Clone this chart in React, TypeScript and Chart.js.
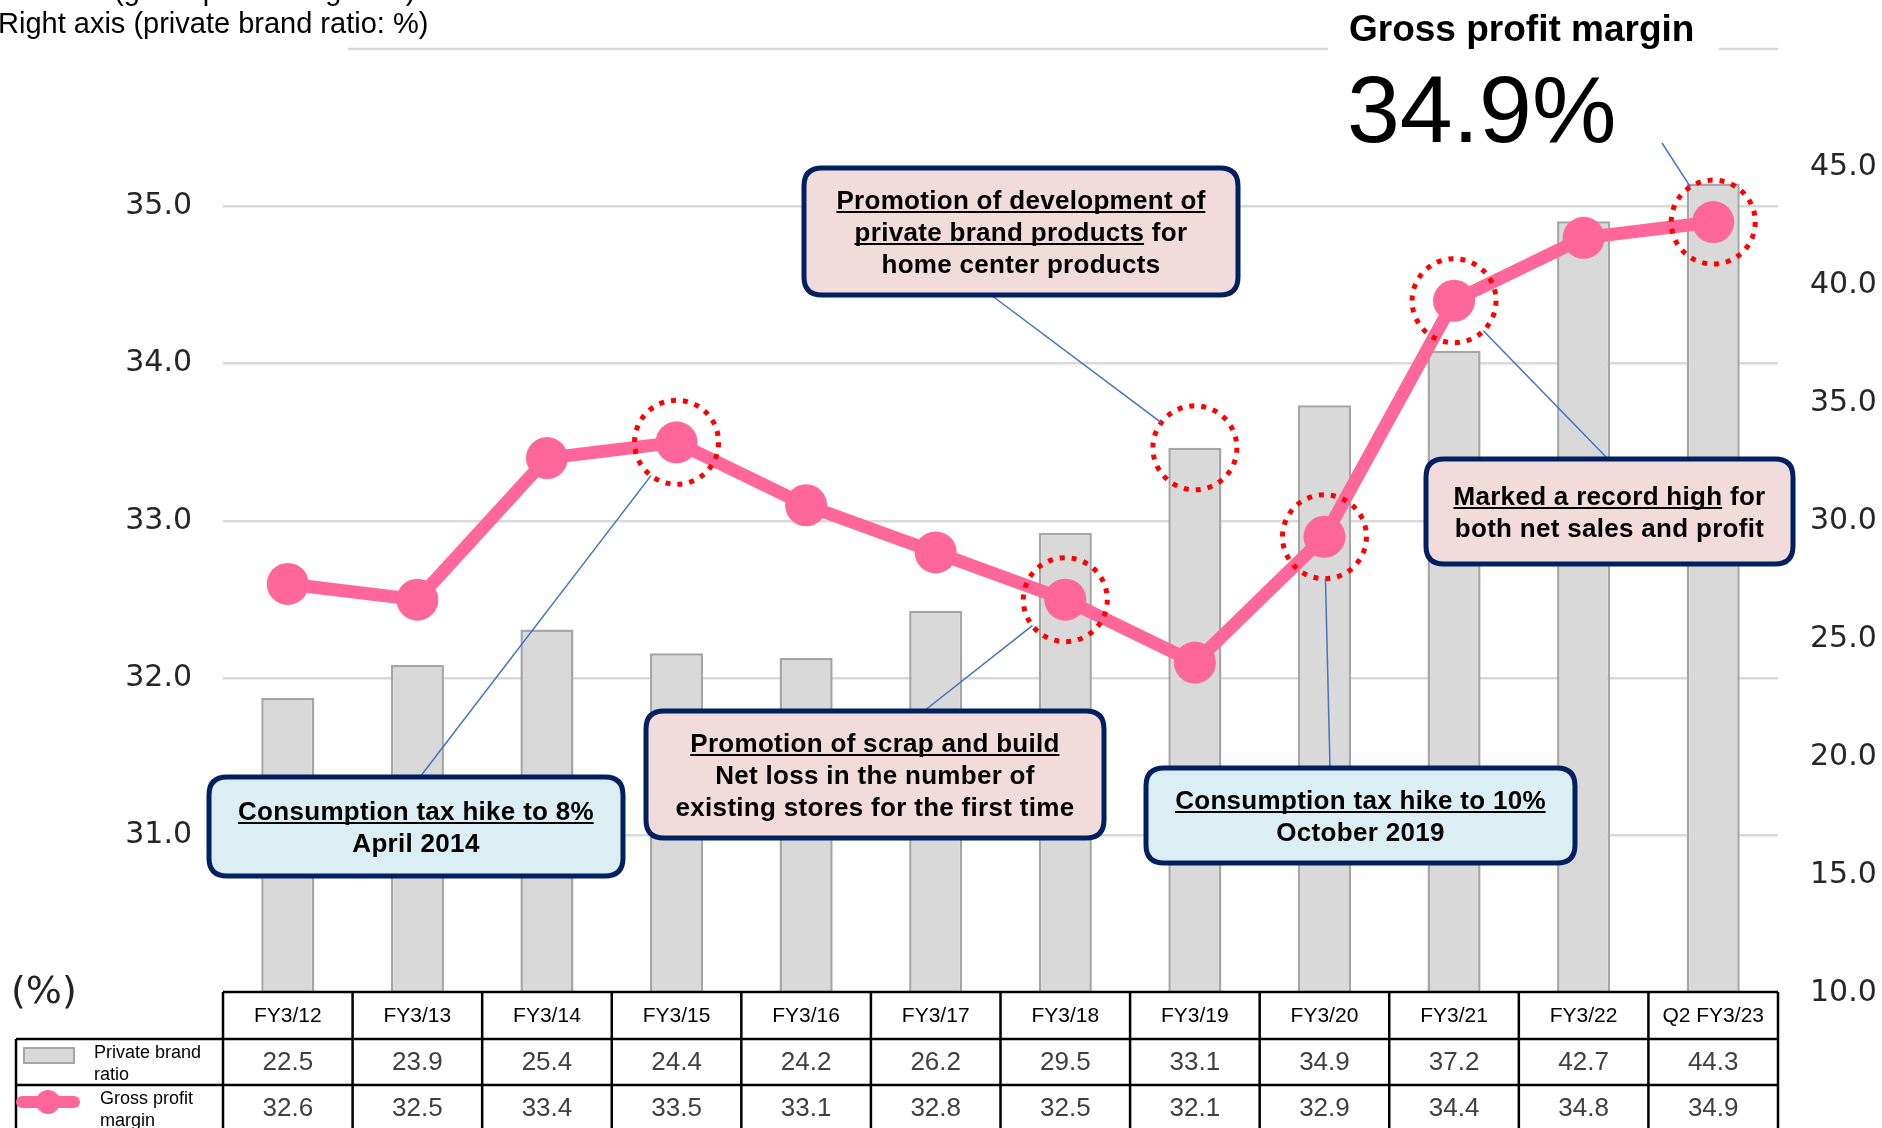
import React, { useEffect, useRef } from 'react';
import { Chart, registerables } from 'chart.js';

Chart.register(...registerables);

// ---------- data ----------
const categories = ['FY3/12', 'FY3/13', 'FY3/14', 'FY3/15', 'FY3/16', 'FY3/17', 'FY3/18', 'FY3/19', 'FY3/20', 'FY3/21', 'FY3/22', 'Q2 FY3/23'];
const privateBrandRatio = [22.5, 23.9, 25.4, 24.4, 24.2, 26.2, 29.5, 33.1, 34.9, 37.2, 42.7, 44.3];
const grossProfitMargin = [32.6, 32.5, 33.4, 33.5, 33.1, 32.8, 32.5, 32.1, 32.9, 34.4, 34.8, 34.9];
const leftTicks = [31, 32, 33, 34, 35];
const rightTicks = [10, 15, 20, 25, 30, 35, 40, 45];
const circledMarginIdx = [3, 6, 8, 9, 11];
const circledBarIdx = [7];
const headlineLabel = 'Gross profit margin';
const headlineValue = '34.9%';
const axisNoteLeft = 'Left axis (gross profit margin: %)';
const axisNoteRight = 'Right axis (private brand ratio: %)';
const legendBarLabel = ['Private brand', 'ratio'];
const legendLineLabel = ['Gross profit', 'margin'];

// ---------- layout / style ----------
const W = 1882;
const H = 1128;
const AREA = { left: 223, right: 1778, top: 167, bottom: 993 };
const PINK = '#ff6699';
const BAR_FILL = '#d9d9d9';
const BAR_EDGE = '#a6a6a6';
const NAVY = '#002060';
const BOX_PINK = '#f2dcdb';
const BOX_BLUE = '#daeef3';
const LINK = '#4472c4';
const SANS = '"Liberation Sans", Arial, sans-serif';
const VERD = '"DejaVu Sans", Verdana, sans-serif';
const CIRCLE_R = 42;

type Seg = { t: string; u?: boolean };
type Box = { x: number; y: number; w: number; h: number; fill: string; lines: Seg[][]; link: { from: [number, number]; kind: 'line' | 'bar'; i: number } };

const boxes: Box[] = [
  {
    x: 209, y: 777, w: 414, h: 99, fill: BOX_BLUE,
    lines: [[{ t: 'Consumption tax hike to 8%', u: true }], [{ t: 'April 2014' }]],
    link: { from: [420, 777], kind: 'line', i: 3 },
  },
  {
    x: 646, y: 711, w: 458, h: 127, fill: BOX_PINK,
    lines: [[{ t: 'Promotion of scrap and build', u: true }], [{ t: 'Net loss in the number of' }], [{ t: 'existing stores for the first time' }]],
    link: { from: [924, 711], kind: 'line', i: 6 },
  },
  {
    x: 804, y: 168, w: 434, h: 127, fill: BOX_PINK,
    lines: [[{ t: 'Promotion of development of', u: true }], [{ t: 'private brand products', u: true }, { t: ' for' }], [{ t: 'home center products' }]],
    link: { from: [991, 295], kind: 'bar', i: 7 },
  },
  {
    x: 1146, y: 768, w: 429, h: 95, fill: BOX_BLUE,
    lines: [[{ t: 'Consumption tax hike to 10%', u: true }], [{ t: 'October 2019' }]],
    link: { from: [1330, 768], kind: 'line', i: 8 },
  },
  {
    x: 1426, y: 459, w: 367, h: 105, fill: BOX_PINK,
    lines: [[{ t: 'Marked a record high', u: true }, { t: ' for' }], [{ t: 'both net sales and profit' }]],
    link: { from: [1608, 459], kind: 'line', i: 9 },
  },
];

function roundRect(ctx: CanvasRenderingContext2D, x: number, y: number, w: number, h: number, r: number) {
  ctx.beginPath();
  ctx.moveTo(x + r, y);
  ctx.lineTo(x + w - r, y);
  ctx.quadraticCurveTo(x + w, y, x + w, y + r);
  ctx.lineTo(x + w, y + h - r);
  ctx.quadraticCurveTo(x + w, y + h, x + w - r, y + h);
  ctx.lineTo(x + r, y + h);
  ctx.quadraticCurveTo(x, y + h, x, y + h - r);
  ctx.lineTo(x, y + r);
  ctx.quadraticCurveTo(x, y, x + r, y);
  ctx.closePath();
}

function centerOf(chart: any, kind: 'line' | 'bar', i: number): [number, number] {
  const x = chart.scales.x.getPixelForValue(i);
  const y = kind === 'line'
    ? chart.scales.y.getPixelForValue(grossProfitMargin[i])
    : chart.scales.y2.getPixelForValue(privateBrandRatio[i]);
  return [x, y];
}

function drawLink(ctx: CanvasRenderingContext2D, from: [number, number], c: [number, number]) {
  const dx = from[0] - c[0];
  const dy = from[1] - c[1];
  const d = Math.hypot(dx, dy) || 1;
  const ex = c[0] + (dx / d) * CIRCLE_R;
  const ey = c[1] + (dy / d) * CIRCLE_R;
  ctx.beginPath();
  ctx.moveTo(from[0], from[1]);
  ctx.lineTo(ex, ey);
  ctx.stroke();
}

const overlay = {
  id: 'overlay',
  afterDatasetsDraw(chart: any) {
    const ctx: CanvasRenderingContext2D = chart.ctx;
    ctx.save();
    ctx.strokeStyle = '#ff0000';
    ctx.lineWidth = 5;
    ctx.setLineDash([5, 7]);
    const draw = (c: [number, number]) => {
      ctx.beginPath();
      ctx.arc(c[0], c[1], CIRCLE_R, 0, Math.PI * 2);
      ctx.stroke();
    };
    circledMarginIdx.forEach((i) => draw(centerOf(chart, 'line', i)));
    circledBarIdx.forEach((i) => draw(centerOf(chart, 'bar', i)));
    ctx.restore();
  },
  afterDraw(chart: any) {
    const ctx: CanvasRenderingContext2D = chart.ctx;
    const xs = chart.scales.x;
    ctx.save();

    // connectors
    ctx.strokeStyle = LINK;
    ctx.lineWidth = 1.5;
    boxes.forEach((b) => drawLink(ctx, b.link.from, centerOf(chart, b.link.kind, b.link.i)));
    drawLink(ctx, [1662, 143], centerOf(chart, 'line', grossProfitMargin.length - 1));

    // annotation boxes
    boxes.forEach((b) => {
      roundRect(ctx, b.x, b.y, b.w, b.h, 18);
      ctx.fillStyle = b.fill;
      ctx.fill();
      ctx.strokeStyle = NAVY;
      ctx.lineWidth = 5;
      ctx.stroke();
      ctx.font = `bold 26px ${SANS}`;
      (ctx as any).letterSpacing = '0.3px';
      ctx.fillStyle = '#000';
      ctx.textAlign = 'left';
      ctx.textBaseline = 'alphabetic';
      const lh = 32;
      const cy = b.y + b.h / 2;
      const n = b.lines.length;
      b.lines.forEach((line, li) => {
        const mid = cy + (li - (n - 1) / 2) * lh;
        const base = mid + 9;
        const widths = line.map((s) => ctx.measureText(s.t).width);
        const total = widths.reduce((a, c) => a + c, 0);
        let x = b.x + b.w / 2 - total / 2;
        line.forEach((s, si) => {
          ctx.fillText(s.t, x, base);
          if (s.u) {
            ctx.beginPath();
            ctx.strokeStyle = '#000';
            ctx.lineWidth = 2;
            ctx.moveTo(x, base + 3.5);
            ctx.lineTo(x + widths[si] - 0.3, base + 3.5);
            ctx.stroke();
          }
          x += widths[si];
        });
      });
      (ctx as any).letterSpacing = '0px';
    });

    // top frame line
    ctx.strokeStyle = '#d9d9d9';
    ctx.lineWidth = 2.5;
    ctx.beginPath();
    ctx.moveTo(348, 49); ctx.lineTo(1328, 49);
    ctx.moveTo(1719, 49); ctx.lineTo(1778, 49);
    ctx.stroke();

    // headline
    ctx.fillStyle = '#000';
    ctx.textAlign = 'left';
    ctx.textBaseline = 'alphabetic';
    ctx.font = `bold 37px ${SANS}`;
    ctx.fillText(headlineLabel, 1349, 41);
    ctx.font = `95px ${SANS}`;
    ctx.fillText(headlineValue, 1347, 142);

    // axis notes
    ctx.font = `29px ${SANS}`;
    ctx.fillText(axisNoteLeft, -2, 0);
    ctx.fillText(axisNoteRight, -2, 33);

    // (%) label
    ctx.font = `38px ${VERD}`;
    ctx.textBaseline = 'middle';
    ctx.fillStyle = '#222';
    ctx.fillText('(%)', 11, 993);

    // table
    const colW = (AREA.right - AREA.left) / categories.length;
    const rTop = 992, r1 = 1039, r2 = 1085, r3 = 1140;
    const tLeft = 16;
    ctx.strokeStyle = '#000';
    ctx.lineWidth = 2.5;
    ctx.fillStyle = '#fff';
    ctx.fillRect(AREA.left, rTop, AREA.right - AREA.left, r3 - rTop);
    ctx.fillRect(tLeft, r1, AREA.right - tLeft, r3 - r1);
    ctx.beginPath();
    ctx.moveTo(AREA.left, rTop); ctx.lineTo(AREA.right, rTop);
    ctx.moveTo(tLeft, r1); ctx.lineTo(AREA.right, r1);
    ctx.moveTo(tLeft, r2); ctx.lineTo(AREA.right, r2);
    ctx.moveTo(tLeft, r1); ctx.lineTo(tLeft, r3);
    for (let k = 0; k <= categories.length; k++) {
      const x = AREA.left + k * colW;
      ctx.moveTo(x, rTop); ctx.lineTo(x, r3);
    }
    ctx.stroke();

    ctx.textAlign = 'center';
    ctx.textBaseline = 'middle';
    categories.forEach((c, i) => {
      const cx = xs.getPixelForValue(i);
      ctx.fillStyle = '#000';
      ctx.font = `21px ${SANS}`;
      ctx.fillText(c, cx, 1016);
      ctx.fillStyle = '#404040';
      ctx.font = `26px ${SANS}`;
      ctx.fillText(privateBrandRatio[i].toFixed(1), cx, 1063);
      ctx.fillText(grossProfitMargin[i].toFixed(1), cx, 1109);
    });

    // legend swatches
    ctx.fillStyle = BAR_FILL;
    ctx.fillRect(24, 1048, 50, 15);
    ctx.strokeStyle = BAR_EDGE;
    ctx.lineWidth = 2;
    ctx.strokeRect(24, 1048, 50, 15);
    ctx.strokeStyle = PINK;
    ctx.lineWidth = 12;
    ctx.lineCap = 'round';
    ctx.beginPath();
    ctx.moveTo(22, 1102); ctx.lineTo(74, 1102);
    ctx.stroke();
    ctx.fillStyle = PINK;
    ctx.beginPath();
    ctx.arc(48, 1102, 12, 0, Math.PI * 2);
    ctx.fill();

    ctx.fillStyle = '#000';
    ctx.textAlign = 'left';
    ctx.font = `18px ${SANS}`;
    ctx.fillText(legendBarLabel[0], 94, 1053);
    ctx.fillText(legendBarLabel[1], 94, 1075);
    ctx.fillText(legendLineLabel[0], 100, 1099);
    ctx.fillText(legendLineLabel[1], 100, 1121);

    ctx.restore();
  },
};

export default function App() {
  const ref = useRef<HTMLCanvasElement | null>(null);

  useEffect(() => {
    if (!ref.current) return;
    const chart = new Chart(ref.current, {
      data: {
        labels: categories,
        datasets: [
          {
            type: 'line',
            label: 'Gross profit margin',
            data: grossProfitMargin,
            yAxisID: 'y',
            borderColor: PINK,
            backgroundColor: PINK,
            borderWidth: 13,
            pointRadius: 21,
            pointBorderWidth: 0,
            pointBackgroundColor: PINK,
            tension: 0,
            order: 0,
          },
          {
            type: 'bar',
            label: 'Private brand ratio',
            data: privateBrandRatio,
            yAxisID: 'y2',
            backgroundColor: BAR_FILL,
            borderColor: BAR_EDGE,
            borderWidth: 2.5,
            barPercentage: 0.41,
            categoryPercentage: 1,
            order: 1,
          },
        ] as any,
      },
      options: {
        responsive: false,
        animation: false,
        devicePixelRatio: 1,
        layout: { padding: { left: 0, right: 0, top: AREA.top, bottom: H - AREA.bottom } },
        plugins: { legend: { display: false }, tooltip: { enabled: false } },
        scales: {
          x: { type: 'category', display: false, offset: true },
          y: {
            type: 'linear',
            position: 'left',
            min: 30,
            max: 35.25,
            afterBuildTicks: (s: any) => { s.ticks = leftTicks.map((v) => ({ value: v })); },
            afterFit: (s: any) => { s.width = AREA.left; },
            grid: { color: '#d9d9d9', lineWidth: 2.5, drawTicks: false },
            border: { display: false },
            ticks: {
              padding: 31,
              color: '#262626',
              font: { family: VERD, size: 30 },
              callback: (v: any) => Number(v).toFixed(1),
            },
          },
          y2: {
            type: 'linear',
            position: 'right',
            min: 10,
            max: 45,
            afterBuildTicks: (s: any) => { s.ticks = rightTicks.map((v) => ({ value: v })); },
            afterFit: (s: any) => { s.width = W - AREA.right; },
            grid: { display: false, drawTicks: false },
            border: { display: false },
            ticks: {
              padding: 32,
              color: '#262626',
              font: { family: VERD, size: 30 },
              callback: (v: any) => Number(v).toFixed(1),
            },
          },
        },
      } as any,
      plugins: [overlay],
    });
    return () => chart.destroy();
  }, []);

  return (
    <div style={{ position: 'absolute', left: 0, top: 0, width: W, height: H, background: '#fff' }}>
      <canvas ref={ref} width={W} height={H} style={{ width: W, height: H, display: 'block' }} />
    </div>
  );
}
